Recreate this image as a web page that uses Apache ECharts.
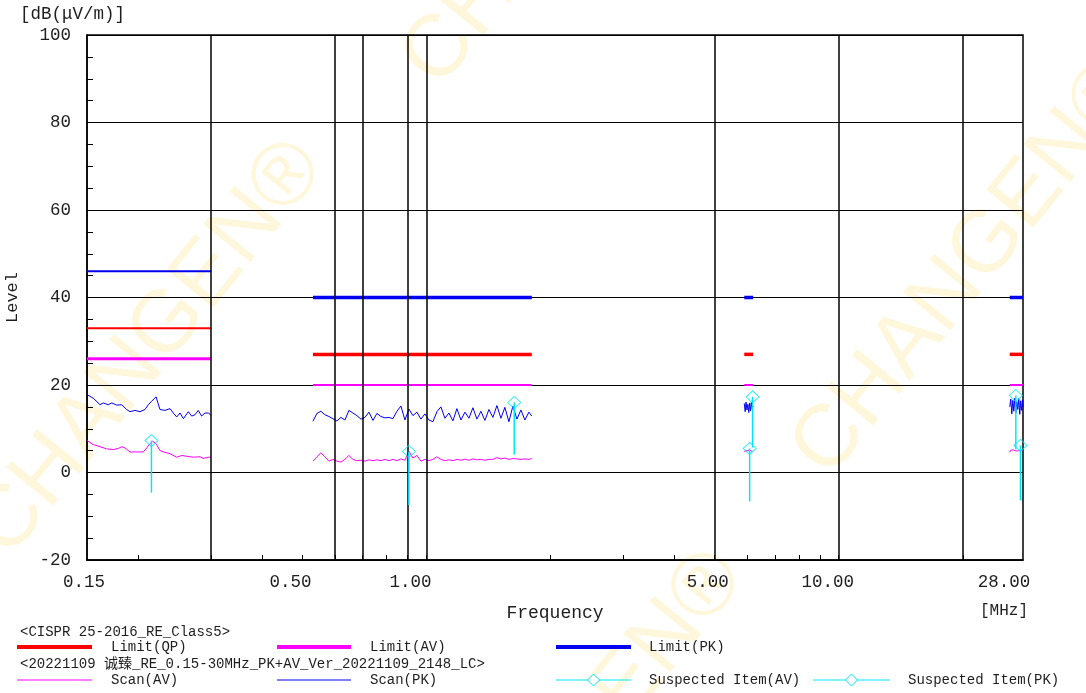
<!DOCTYPE html>
<html>
<head>
<meta charset="utf-8">
<title>CISPR 25 RE scan</title>
<script src="https://cdn.jsdelivr.net/npm/echarts@6/dist/echarts.min.js"></script>
<style>
  html, body { margin: 0; padding: 0; background: #fff; }
  #chart { width: 1086px; height: 693px; }
</style>
</head>
<body>
<div id="chart"></div>
<script>
// axis ticks / labels (MHz)
const xLabelValues = [0.15, 0.5, 1, 5, 10, 28];
const xLabelShift = [3, 12, 16, 7, 11, 19]; // labels sit a bit left of their tick in the original
const xTickValues = [0.2, 0.3, 0.4, 0.5, 0.6, 0.7, 0.8, 0.9, 1, 2, 3, 4, 5, 6, 7, 8, 9, 10, 20];
const xGridValues = [0.3, 0.6, 0.7, 0.9, 1, 5, 10, 20];

// CISPR 25 class 5 bands
const bandStart = [0.15, 0.53, 5.9, 26];
const bandStop = [0.30, 1.8, 6.2, 28];
const limitQP = [33, 27, 27, 27];
const limitAV = [26, 20, 20, 20];
const limitPK = [46, 40, 40, 40];

// LW scan
const lwFreqPK = [0.150, 0.1553, 0.1613, 0.1643, 0.1689, 0.1722, 0.1771, 0.1821, 0.1872, 0.1907, 0.1961,
  0.2017, 0.2074, 0.2113, 0.2153, 0.2206, 0.2255, 0.2319, 0.2385, 0.2429, 0.2476, 0.2522, 0.2570, 0.2642,
  0.2692, 0.2742, 0.2793, 0.2846, 0.2900, 0.2954, 0.300];
const lwPK = [17.8, 17.0, 15.5, 15.9, 15.5, 15.9, 15.4, 15.5, 14.4, 13.9, 14.2,
  13.9, 14.4, 15.5, 16.3, 17.3, 14.4, 14.2, 14.6, 13.6, 12.7, 13.6, 12.3, 13.9,
  12.9, 13.2, 14.2, 12.9, 13.6, 13.6, 13.1];
const lwFreqAV = [0.150, 0.1553, 0.1613, 0.1674, 0.1737, 0.1787, 0.1821, 0.1855, 0.1907, 0.1980, 0.2054,
  0.2094, 0.2133, 0.2165, 0.2206, 0.2255, 0.2319, 0.2385, 0.2476, 0.2545, 0.2618, 0.2716, 0.2820, 0.2873,
  0.2954, 0.300];
const lwAV = [7.3, 6.4, 5.9, 5.4, 5.25, 5.5, 5.9, 5.6, 4.7, 4.7, 4.7,
  5.6, 6.6, 7.15, 6.6, 5.0, 4.6, 4.3, 3.5, 3.9, 3.7, 3.5, 3.6, 3.2,
  3.5, 3.5];

// MW scan
const mwFreq = [0.530, 0.542, 0.5542, 0.5667, 0.5795, 0.5926, 0.606, 0.6197, 0.6337, 0.648, 0.6627,
  0.6777, 0.693, 0.7087, 0.7247, 0.7411, 0.7578, 0.7749, 0.7924, 0.8103, 0.8286, 0.8473, 0.8665,
  0.8861, 0.9061, 0.9266, 0.9475, 0.9689, 0.9908, 1.0132, 1.0361, 1.0595, 1.0835, 1.108, 1.133,
  1.1586, 1.1848, 1.2116, 1.239, 1.267, 1.2956, 1.3249, 1.3548, 1.3854, 1.4167, 1.4487, 1.4814,
  1.5149, 1.5491, 1.5841, 1.6199, 1.6565, 1.6939, 1.7322, 1.7713, 1.800];
const mwPK = [11.7, 13.5, 14.0, 13.2, 12.8, 12.3, 11.8, 12.6, 12.0, 14.2, 13.6,
  13.0, 12.2, 12.6, 13.8, 11.9, 13.5, 12.8, 12.5, 12.6, 12.3, 14.0, 15.2,
  12.0, 14.5, 13.0, 13.8, 12.2, 13.4, 12.0, 11.6, 13.9, 15.0, 12.4, 13.6,
  11.8, 14.6, 12.0, 13.8, 12.4, 14.8, 12.2, 14.0, 11.9, 14.4, 12.6, 15.3,
  12.4, 14.9, 11.6, 15.2, 12.2, 14.3, 12.0, 13.8, 12.9];
const mwAV = [2.6, 3.6, 4.5, 3.6, 2.6, 3.0, 2.6, 2.4, 3.0, 3.9, 3.0,
  2.7, 2.8, 2.6, 2.9, 2.7, 2.9, 2.7, 3.0, 2.7, 3.0, 2.7, 3.1,
  2.8, 4.9, 3.3, 3.9, 2.6, 3.0, 2.7, 3.0, 3.6, 3.0, 2.7, 2.9,
  2.7, 3.0, 2.8, 3.05, 2.8, 3.1, 2.9, 3.0, 2.8, 3.0, 3.0, 3.4,
  3.1, 3.3, 3.0, 3.2, 3.1, 3.0, 3.1, 3.0, 3.2];

// SW scan
const swFreq = [5.90, 5.93, 5.96, 5.99, 6.02, 6.05, 6.08, 6.11, 6.14, 6.17, 6.20];
const swPK = [15.8, 13.9, 16.1, 14.3, 15.6, 13.7, 15.9, 14.1, 16.0, 14.6, 15.2];
const swAV = [4.8, 5.2, 4.6, 5.0, 5.4, 4.7, 5.1, 4.9, 5.3, 4.8, 5.0];

// CB scan
const cbFreq = [26.0, 26.15, 26.3, 26.45, 26.6, 26.75, 26.9, 27.05, 27.2, 27.35, 27.5, 27.65, 27.8, 27.95, 28.0];
const cbPK = [15.0, 16.8, 13.4, 16.5, 14.0, 17.0, 13.6, 16.2, 14.4, 16.9, 13.3, 16.4, 14.2, 16.6, 15.0];
const cbAV = [4.6, 5.1, 4.7, 5.2, 4.8, 5.0, 4.6, 5.3, 4.9, 5.1, 4.7, 5.2, 4.8, 5.0, 4.9];

// suspected items
const avItemFreq = [0.215, 0.906, 6.08, 27.6];
const avItemLevel = [7.3, 4.8, 5.5, 6.2];
const avItemStem = [-4.6, -7.4, -6.6, -6.4];
const pkItemFreq = [1.632, 6.18, 26.9];
const pkItemLevel = [16.0, 17.3, 17.6];
const pkItemStem = [4.1, 5.7, 5.3];

const mono = "'Liberation Mono', 'Courier New', monospace";
const txt = '#1e1e1e';
const red = '#ff0000', magenta = '#ff00ff', blue = '#0000f0', cyan = '#00e8f8';

function scanSeries(freq, vals, color, extra) {
  return Object.assign({
    type: 'line',
    data: freq.map((f, i) => [f, vals[i]]),
    showSymbol: false,
    symbol: 'none',
    lineStyle: { color: color, width: 1 },
    itemStyle: { color: color },
    silent: true,
    z: 3
  }, extra || {});
}

function limitSeries(vals, color, widths) {
  return {
    type: 'custom',
    silent: true,
    z: 4,
    data: bandStart.map((s, i) => [s, bandStop[i], vals[i], i]),
    encode: { x: [0, 1], y: 2 },
    renderItem: function (params, api) {
      const a = api.coord([api.value(0), api.value(2)]);
      const b = api.coord([api.value(1), api.value(2)]);
      return {
        type: 'line',
        shape: { x1: a[0], y1: a[1], x2: b[0], y2: b[1] },
        style: { stroke: color, lineWidth: widths[api.value(3)] }
      };
    }
  };
}

function stemSeries(freq, top, bottom) {
  return {
    type: 'custom',
    silent: true,
    z: 5,
    data: freq.map((f, i) => [f, top[i], bottom[i]]),
    encode: { x: 0, y: [1, 2] },
    renderItem: function (params, api) {
      const a = api.coord([api.value(0), api.value(1)]);
      const b = api.coord([api.value(0), api.value(2)]);
      return {
        type: 'line',
        shape: { x1: a[0], y1: a[1], x2: b[0], y2: b[1] },
        style: { stroke: cyan, lineWidth: 1.5 }
      };
    }
  };
}

function itemSeries(freq, level) {
  return {
    type: 'scatter',
    silent: true,
    z: 6,
    symbol: 'diamond',
    symbolSize: [13, 12],
    data: freq.map((f, i) => [f, level[i]]),
    itemStyle: { color: 'rgba(255,255,255,0)', borderColor: cyan, borderWidth: 1 }
  };
}

// legend pieces below the plot
function legendItem(x1, x2, y, color, width, textX, label, diamond) {
  const els = [
    { type: 'line', shape: { x1: x1, y1: y, x2: x2, y2: y }, style: { stroke: color, lineWidth: width } },
    { type: 'text', x: textX, y: y, style: { text: label, font: '14px ' + mono, fill: txt, textVerticalAlign: 'middle' } }
  ];
  if (diamond) {
    const cx = (x1 + x2) / 2;
    els.push({ type: 'polygon', shape: { points: [[cx, y - 6], [cx + 6, y], [cx, y + 6], [cx - 6, y]] },
      style: { fill: '#fff', stroke: color, lineWidth: 1 } });
  }
  return els;
}

function watermark(x, y) {
  return { type: 'text', x: x, y: y, rotation: 51 * Math.PI / 180, z: -10, silent: true,
    style: { text: 'CHANGEN®', font: '88px "Liberation Sans"', fill: 'rgba(255,214,80,0.2)', textVerticalAlign: 'middle' } };
}

const graphics = [
  watermark(-10, 545), watermark(420, 75), watermark(810, 465), watermark(410, 955),
  { type: 'text', x: 20, y: 14, style: { text: '[dB(μV/m)]', font: '17.5px ' + mono, fill: txt, textVerticalAlign: 'middle' } },
  { type: 'text', x: 1004, y: 611, style: { text: '[MHz]', font: '16px ' + mono, fill: txt, textAlign: 'center', textVerticalAlign: 'middle' } },
  { type: 'text', x: 20, y: 632, style: { text: '<CISPR 25-2016_RE_Class5>', font: '14px ' + mono, fill: txt, textVerticalAlign: 'middle' } },
  { type: 'text', x: 20, y: 664, style: { text: '<20221109 诚臻_RE_0.15-30MHz_PK+AV_Ver_20221109_2148_LC>', font: "14px 'Liberation Mono', 'Noto Sans CJK SC', monospace", fill: txt, textVerticalAlign: 'middle' } }
].concat(
  legendItem(17, 92, 647, red, 4, 111, 'Limit(QP)'),
  legendItem(277, 351, 647, magenta, 4, 370, 'Limit(AV)'),
  legendItem(556, 631, 647, blue, 4, 649, 'Limit(PK)'),
  legendItem(17, 92, 680, magenta, 1, 111, 'Scan(AV)'),
  legendItem(277, 351, 680, blue, 1, 370, 'Scan(PK)'),
  legendItem(556, 631, 680, cyan, 1, 649, 'Suspected Item(AV)', true),
  legendItem(813, 890, 680, cyan, 1, 908, 'Suspected Item(PK)', true)
);

// one rich style per x label so each can be nudged left like the original
const xLabelRich = {};
xLabelShift.forEach((s, i) => {
  xLabelRich['l' + i] = { color: txt, fontSize: 17.5, fontFamily: mono, padding: [0, 2 * s, 0, 0] };
});

const chart = echarts.init(document.getElementById('chart'));
chart.setOption({
  animation: false,
  backgroundColor: '#fff',
  grid: { left: 87, right: 63, top: 35, bottom: 133, show: true, borderColor: '#000', borderWidth: 1.5,
    containLabel: false, outerBoundsMode: 'none' },
  xAxis: {
    type: 'log', logBase: 10, min: 0.15, max: 28,
    axisLine: { show: true, onZero: false, lineStyle: { color: '#000', width: 1.5 } },
    axisTick: { show: true, inside: true, length: 5, customValues: xTickValues, lineStyle: { color: '#000', width: 1 } },
    axisLabel: {
      customValues: xLabelValues,
      formatter: function (v) {
        let k = 0;
        xLabelValues.forEach((lv, i) => { if (Math.abs(lv - v) < Math.abs(xLabelValues[k] - v)) k = i; });
        return '{l' + k + '|' + Number(v).toFixed(2) + '}';
      },
      rich: xLabelRich,
      color: txt, fontSize: 17.5, fontFamily: mono, margin: 13
    },
    splitLine: { show: false },
    minorTick: { show: false },
    name: 'Frequency', nameLocation: 'middle', nameGap: 44,
    nameTextStyle: { color: txt, fontSize: 18, fontFamily: mono }
  },
  yAxis: {
    type: 'value', min: -20, max: 100, interval: 20,
    axisLine: { show: true, lineStyle: { color: '#000', width: 1.5 } },
    axisTick: { show: true, inside: true, length: 6, lineStyle: { color: '#000', width: 1 } },
    minorTick: { show: true, splitNumber: 4, length: 6, lineStyle: { color: '#000', width: 1 } },
    splitLine: { show: true, lineStyle: { color: '#000', width: 1 } },
    axisLabel: { color: txt, fontSize: 17.5, fontFamily: mono, margin: 16 },
    name: 'Level', nameLocation: 'middle', nameGap: 66, nameRotate: 90,
    nameTextStyle: { color: txt, fontSize: 17, fontFamily: mono }
  },
  graphic: graphics,
  series: [
    scanSeries(lwFreqPK, lwPK, blue, {
      markLine: {
        silent: true, symbol: 'none', label: { show: false },
        lineStyle: { color: '#000', width: 1.5, type: 'solid' },
        data: xGridValues.map(v => ({ xAxis: v }))
      }
    }),
    scanSeries(lwFreqAV, lwAV, magenta),
    scanSeries(mwFreq, mwPK, blue),
    scanSeries(mwFreq, mwAV, magenta),
    scanSeries(swFreq, swPK, blue),
    scanSeries(swFreq, swAV, magenta),
    scanSeries(cbFreq, cbPK, blue),
    scanSeries(cbFreq, cbAV, magenta),
    limitSeries(limitPK, blue, [2, 3.5, 3.5, 3.5]),
    limitSeries(limitQP, red, [2, 3.5, 3.5, 3.5]),
    limitSeries(limitAV, magenta, [3, 2, 2, 2]),
    stemSeries(avItemFreq, avItemLevel, avItemStem),
    stemSeries(pkItemFreq, pkItemLevel, pkItemStem),
    itemSeries(avItemFreq, avItemLevel),
    itemSeries(pkItemFreq, pkItemLevel)
  ]
});
</script>
</body>
</html>
